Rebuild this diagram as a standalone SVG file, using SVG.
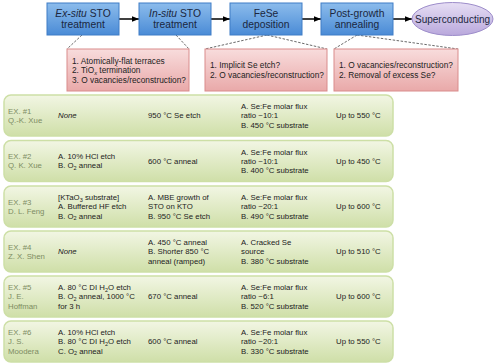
<svg xmlns="http://www.w3.org/2000/svg" width="500" height="364" viewBox="0 0 500 364">
<defs>
<linearGradient id="gBlue" x1="0" y1="0" x2="0" y2="1"><stop offset="0" stop-color="#8cbcec"/><stop offset="1" stop-color="#4a8bd6"/></linearGradient>
<linearGradient id="gPink" x1="0" y1="0" x2="0" y2="1"><stop offset="0" stop-color="#f8dcdc"/><stop offset="1" stop-color="#e9a9a9"/></linearGradient>
<linearGradient id="gGreen" x1="0" y1="0" x2="0" y2="1"><stop offset="0" stop-color="#f2f6e4"/><stop offset="1" stop-color="#cfdfa8"/></linearGradient>
<linearGradient id="gPurple" x1="0" y1="0" x2="0" y2="1"><stop offset="0" stop-color="#e6def4"/><stop offset="1" stop-color="#b9a8dc"/></linearGradient>
<marker id="arr" viewBox="0 0 10 10" refX="10" refY="5" markerWidth="7" markerHeight="7" markerUnits="userSpaceOnUse" orient="auto"><path d="M0,1 L10,5 L0,9 z" fill="#000"/></marker>
</defs>
<style>
.blue{fill:url(#gBlue);stroke:#3f7dc6;stroke-width:1}
.pink{fill:url(#gPink);stroke:#d98c8c;stroke-width:1}
.green{fill:url(#gGreen);stroke:#cddfa6;stroke-width:1.5}
.oval{fill:url(#gPurple);stroke:#9d8dca;stroke-width:1}
.bt{font-family:"Liberation Sans",Arial,sans-serif;font-size:10.3px;fill:#1b2740;text-anchor:middle}
.st{font-family:"Liberation Sans",Arial,sans-serif;font-size:10px;fill:#1b2740;text-anchor:middle}
.pt{font-family:"Liberation Sans",Arial,sans-serif;font-size:8.3px;fill:#222}
.gt{font-family:"Liberation Sans",Arial,sans-serif;font-size:7.8px;fill:#222}
.lab{font-family:"Liberation Sans",Arial,sans-serif;font-size:7.8px;fill:#7d8c62}
.it{font-style:italic}
.arrow{stroke:#000;stroke-width:1.5;fill:none;marker-end:url(#arr)}
.dash{stroke:#444;stroke-width:0.8;stroke-dasharray:2.5,1.5;fill:none}
</style>

<g id="connectors">
<line class="arrow" x1="119" y1="19" x2="139" y2="19"/>
<line class="arrow" x1="211" y1="19" x2="230" y2="19"/>
<line class="arrow" x1="302" y1="19" x2="321" y2="19"/>
<line class="arrow" x1="393" y1="19" x2="412" y2="19"/>
<line class="dash" x1="82" y1="35" x2="67" y2="49"/>
<line class="dash" x1="176" y1="35" x2="189" y2="49"/>
<line class="dash" x1="267" y1="35" x2="205" y2="49"/>
<line class="dash" x1="267" y1="35" x2="327" y2="49"/>
<line class="dash" x1="357" y1="35" x2="334" y2="49"/>
<line class="dash" x1="357" y1="35" x2="458" y2="49"/>
</g>

<g id="node-exsitu">
<rect class="blue" x="47" y="3" width="72" height="32"/>
<text class="bt" x="83" y="16.5"><tspan class="it">Ex-situ</tspan> STO</text>
<text class="bt" x="83" y="27.5">treatment</text>
</g>
<g id="node-insitu">
<rect class="blue" x="139" y="3" width="72" height="32"/>
<text class="bt" x="175" y="16.5"><tspan class="it">In-situ</tspan> STO</text>
<text class="bt" x="175" y="27.5">treatment</text>
</g>
<g id="node-fese">
<rect class="blue" x="230" y="3" width="72" height="32"/>
<text class="bt" x="266" y="16.5">FeSe</text>
<text class="bt" x="266" y="27.5">deposition</text>
</g>
<g id="node-anneal">
<rect class="blue" x="321" y="3" width="72" height="32"/>
<text class="bt" x="357" y="16.5">Post-growth</text>
<text class="bt" x="357" y="27.5">annealing</text>
</g>
<g id="node-sc">
<ellipse class="oval" cx="452.5" cy="19" rx="40.5" ry="16.5"/>
<text class="st" x="452.5" y="22.5">Superconducting</text>
</g>

<g id="note-sto">
<rect class="pink" x="67" y="49" width="122" height="42"/>
<text class="pt" x="72" y="63.5">1. Atomically-flat terraces</text>
<text class="pt" x="72" y="73">2. TiO<tspan dy="1.8" font-size="5.8" class="it">x</tspan><tspan dy="-1.8"> termination</tspan></text>
<text class="pt" x="72" y="82.5">3. O vacancies/reconstruction?</text>
</g>
<g id="note-fese">
<rect class="pink" x="205" y="49" width="122" height="42"/>
<text class="pt" x="210" y="68">1. Implicit Se etch?</text>
<text class="pt" x="210" y="78">2. O vacancies/reconstruction?</text>
</g>
<g id="note-anneal">
<rect class="pink" x="334" y="49" width="124" height="42"/>
<text class="pt" x="339" y="68">1. O vacancies/reconstruction?</text>
<text class="pt" x="339" y="78">2. Removal of excess Se?</text>
</g>

<g id="row-ex1">
<rect class="green" x="4" y="95" width="389" height="41" rx="7"/>
<text class="lab" x="8" y="113.6">EX. #1</text>
<text class="lab" x="8" y="122.9">Q.-K. Xue</text>
<text class="gt it" x="58" y="118.3">None</text>
<text class="gt" x="148" y="118.3">950 °C Se etch</text>
<text class="gt" x="241" y="109">A. Se:Fe molar flux</text>
<text class="gt" x="241" y="118.3">ratio ~10:1</text>
<text class="gt" x="241" y="127.6">B. 450 °C substrate</text>
<text class="gt" x="336" y="118.3">Up to 550 °C</text>
</g>
<g id="row-ex2">
<rect class="green" x="4" y="140.5" width="389" height="41" rx="7"/>
<text class="lab" x="8" y="159.1">EX. #2</text>
<text class="lab" x="8" y="168.4">Q. K. Xue</text>
<text class="gt" x="58" y="159.1">A. 10% HCl etch</text>
<text class="gt" x="58" y="168.4">B. O<tspan dy="1.8" font-size="5.5">2</tspan><tspan dy="-1.8"> anneal</tspan></text>
<text class="gt" x="148" y="163.8">600 °C anneal</text>
<text class="gt" x="241" y="154.5">A. Se:Fe molar flux</text>
<text class="gt" x="241" y="163.8">ratio ~10:1</text>
<text class="gt" x="241" y="173.1">B. 400 °C substrate</text>
<text class="gt" x="336" y="163.8">Up to 450 °C</text>
</g>
<g id="row-ex3">
<rect class="green" x="4" y="186" width="389" height="41" rx="7"/>
<text class="lab" x="8" y="204.6">EX. #3</text>
<text class="lab" x="8" y="213.9">D. L. Feng</text>
<text class="gt" x="58" y="200">[KTaO<tspan dy="1.8" font-size="5.5">3</tspan><tspan dy="-1.8"> substrate]</tspan></text>
<text class="gt" x="58" y="209.3">A. Buffered HF etch</text>
<text class="gt" x="58" y="218.6">B. O<tspan dy="1.8" font-size="5.5">2</tspan><tspan dy="-1.8"> anneal</tspan></text>
<text class="gt" x="148" y="200">A. MBE growth of</text>
<text class="gt" x="148" y="209.3">STO on KTO</text>
<text class="gt" x="148" y="218.6">B. 950 °C Se etch</text>
<text class="gt" x="241" y="200">A. Se:Fe molar flux</text>
<text class="gt" x="241" y="209.3">ratio ~20:1</text>
<text class="gt" x="241" y="218.6">B. 490 °C substrate</text>
<text class="gt" x="336" y="209.3">Up to 600 °C</text>
</g>
<g id="row-ex4">
<rect class="green" x="4" y="231" width="389" height="41" rx="7"/>
<text class="lab" x="8" y="249.6">EX. #4</text>
<text class="lab" x="8" y="258.9">Z. X. Shen</text>
<text class="gt it" x="58" y="254.3">None</text>
<text class="gt" x="148" y="245">A. 450 °C anneal</text>
<text class="gt" x="148" y="254.3">B. Shorter 850 °C</text>
<text class="gt" x="148" y="263.6">anneal (ramped)</text>
<text class="gt" x="241" y="245">A. Cracked Se</text>
<text class="gt" x="241" y="254.3">source</text>
<text class="gt" x="241" y="263.6">B. 380 °C substrate</text>
<text class="gt" x="336" y="254.3">Up to 510 °C</text>
</g>
<g id="row-ex5">
<rect class="green" x="4" y="276" width="389" height="41" rx="7"/>
<text class="lab" x="8" y="290">EX. #5</text>
<text class="lab" x="8" y="299.3">J. E.</text>
<text class="lab" x="8" y="308.6">Hoffman</text>
<text class="gt" x="58" y="290">A. 80 °C DI H<tspan dy="1.8" font-size="5.5">2</tspan><tspan dy="-1.8">O etch</tspan></text>
<text class="gt" x="58" y="299.3">B. O<tspan dy="1.8" font-size="5.5">2</tspan><tspan dy="-1.8"> anneal, 1000 °C</tspan></text>
<text class="gt" x="58" y="308.6">for 3 h</text>
<text class="gt" x="148" y="299.3">670 °C anneal</text>
<text class="gt" x="241" y="290">A. Se:Fe molar flux</text>
<text class="gt" x="241" y="299.3">ratio ~6:1</text>
<text class="gt" x="241" y="308.6">B. 520 °C substrate</text>
<text class="gt" x="336" y="299.3">Up to 600 °C</text>
</g>
<g id="row-ex6">
<rect class="green" x="4" y="321" width="389" height="41" rx="7"/>
<text class="lab" x="8" y="335">EX. #6</text>
<text class="lab" x="8" y="344.3">J. S.</text>
<text class="lab" x="8" y="353.6">Moodera</text>
<text class="gt" x="58" y="335">A. 10% HCl etch</text>
<text class="gt" x="58" y="344.3">B. 80 °C DI H<tspan dy="1.8" font-size="5.5">2</tspan><tspan dy="-1.8">O etch</tspan></text>
<text class="gt" x="58" y="353.6">C. O<tspan dy="1.8" font-size="5.5">2</tspan><tspan dy="-1.8"> anneal</tspan></text>
<text class="gt" x="148" y="344.3">600 °C anneal</text>
<text class="gt" x="241" y="335">A. Se:Fe molar flux</text>
<text class="gt" x="241" y="344.3">ratio ~20:1</text>
<text class="gt" x="241" y="353.6">B. 330 °C substrate</text>
<text class="gt" x="336" y="344.3">Up to 550 °C</text>
</g>
</svg>
